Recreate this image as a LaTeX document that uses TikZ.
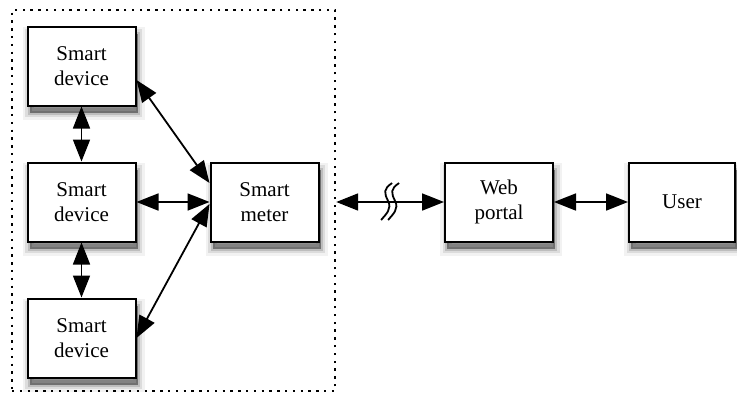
\documentclass[tikz,border=0pt]{standalone}
\usepackage{fontspec}
\setmainfont{Liberation Serif}
\usetikzlibrary{arrows.meta,calc,shadows}
\tikzset{
  softshadow/.style={
    general shadow={fill=black, draw=black, line width=14pt, opacity=0.05, shadow xshift=2pt, shadow yshift=-7pt},
    general shadow={fill=black, draw=black, line width=9pt, opacity=0.09, shadow xshift=2pt, shadow yshift=-7pt},
    general shadow={fill=black, draw=black, line width=4pt, opacity=0.14, shadow xshift=2pt, shadow yshift=-7pt},
    general shadow={fill=black, opacity=0.2, shadow xshift=2pt, shadow yshift=-7pt}},
  box/.style={draw, line width=2pt, fill=white, minimum width=108pt, minimum height=79pt,
    align=center, font=\fontsize{21}{25}\selectfont, softshadow},
  tip/.tip={Triangle[length=22pt,width=17pt]},
  link/.style={line width=1.8pt, tip-tip},
  group/.style={draw, line width=2.4pt, dash pattern=on 2.4pt off 5.4pt, minimum width=323pt, minimum height=381pt},
  wave/.style={line width=1.8pt}
}
\begin{document}
\begin{tikzpicture}[x=1pt,y=-1pt]
  \useasboundingbox (0,0) rectangle (737,394);
  % boundary of the home area
  \node[group] (grp) at (173.5,200.5) {};
  % devices and meter
  \node[box] (dev1) at (81.5,66) {Smart\\device};
  \node[box] (dev2) at (81.5,202) {Smart\\device};
  \node[box] (dev3) at (81.5,338) {Smart\\device};
  \node[box] (meter) at (264.5,202) {Smart\\meter};
  \node[box] (portal) at (499,202) {Web\\portal};
  \node[box, minimum width=106pt] (user) at (682,202) {User};
  % links inside the home area
  \draw[link] (dev1) -- (dev2);
  \draw[link] (dev2) -- (dev3);
  \draw[link] ($(dev1.east)+(0,14)$) -- ($(meter.west)+(0,-19)$);
  \draw[link] (dev2.east) -- (meter.west);
  \draw[link] (dev3.east) -- ($(meter.west)+(0,2)$);
  % remote links
  \draw[link] (grp.east |- meter.east) -- (portal.west);
  \draw[link] (portal.east) -- (user.west);
  % break mark on the long-distance link
  \coordinate (brk) at ($(grp.east |- meter.east)!0.5!(portal.west)$);
  \foreach \dx in {-4,3}{
    \draw[wave] ($(brk)+(\dx,0)$) ++(6,-19) .. controls +(-9,6) and +(-4,-8) .. ++(-4,18)
      .. controls +(4,8) and +(5,-6) .. ++(-7,19);
  }
\end{tikzpicture}
\end{document}
